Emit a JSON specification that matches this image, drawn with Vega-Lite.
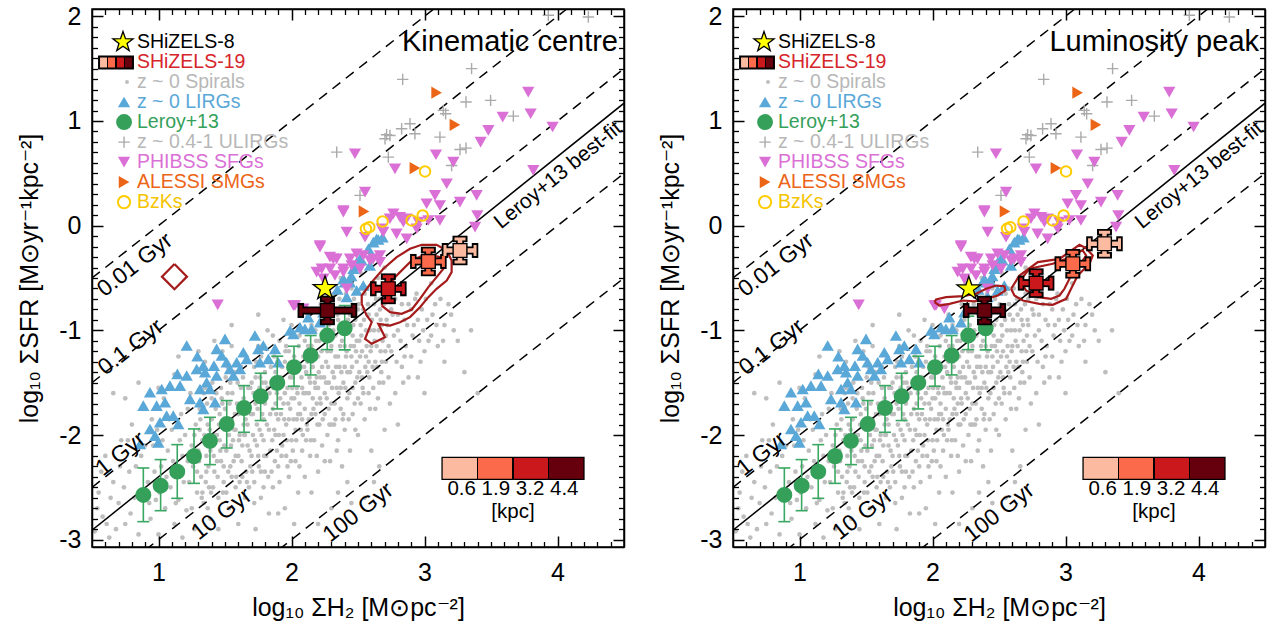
{
"$schema":"https://vega.github.io/schema/vega-lite/v6.json",
"background":"white",
"padding":{"left":17,"top":3,"right":5,"bottom":0},
"spacing":31,
"config":{"view":{"stroke":"black","strokeWidth":1.5},"font":"Liberation Sans","axis":{"grid":false}},
"datasets":{
"spirals":[{"x":0.52,"y":-2.92},{"x":0.55,"y":-2.55},{"x":0.58,"y":-2.78},{"x":0.6,"y":-2.2},{"x":0.63,"y":-2.98},{"x":0.66,"y":-2.45},{"x":0.7,"y":-2.65},{"x":0.72,"y":-2.05},{"x":0.75,"y":-2.85},{"x":0.78,"y":-2.35},{"x":0.8,"y":-1.9},{"x":0.82,"y":-2.6},{"x":0.85,"y":-2.95},{"x":0.87,"y":-2.2},{"x":0.89,"y":-1.75},{"x":0.66,"y":-1.6},{"x":0.75,"y":-1.65},
{"x":0.92,"y":-2.45},{"x":0.94,"y":-2.8},{"x":0.96,"y":-2.1},{"x":0.98,"y":-2.62},{"x":1.0,"y":-2.95},{"x":1.02,"y":-2.3},{"x":1.04,"y":-1.65},{"x":1.05,"y":-2.7},{"x":1.07,"y":-2.15},{"x":1.09,"y":-2.5},{"x":1.1,"y":-1.95},{"x":1.12,"y":-2.85},{"x":1.14,"y":-2.4},{"x":1.15,"y":-2.62},{"x":1.17,"y":-1.8},{"x":1.18,"y":-2.2},{"x":1.2,"y":-2.0},{"x":1.21,"y":-2.72},{"x":1.23,"y":-2.45},{"x":1.24,"y":-1.6},{"x":1.25,"y":-2.1},{"x":1.26,"y":-2.3},{"x":1.27,"y":-2.9},{"x":1.28,"y":-1.9},{"x":1.29,"y":-2.55},{"x":1.0,"y":-1.55},{"x":1.12,"y":-1.42},{"x":0.95,"y":-1.85},{"x":1.18,"y":-2.98},{"x":1.3,"y":-2.15},
{"x":1.31,"y":-1.75},{"x":1.32,"y":-2.4},{"x":1.33,"y":-2.05},{"x":1.34,"y":-2.65},{"x":1.35,"y":-1.3},{"x":1.36,"y":-2.2},{"x":1.37,"y":-1.9},{"x":1.38,"y":-2.5},{"x":1.39,"y":-2.8},{"x":1.4,"y":-1.65},{"x":1.41,"y":-2.1},{"x":1.42,"y":-2.35},{"x":1.43,"y":-1.45},{"x":1.44,"y":-2.0},{"x":1.45,"y":-2.6},{"x":1.46,"y":-1.8},{"x":1.47,"y":-2.25},{"x":1.48,"y":-1.2},{"x":1.49,"y":-2.45},{"x":1.5,"y":-1.95},{"x":1.51,"y":-2.15},{"x":1.52,"y":-1.6},{"x":1.53,"y":-2.7},{"x":1.54,"y":-2.3},{"x":1.55,"y":-1.85},{"x":1.56,"y":-2.05},{"x":1.57,"y":-1.4},{"x":1.58,"y":-2.5},{"x":1.59,"y":-1.7},{"x":1.6,"y":-2.2},{"x":1.61,"y":-2.0},{"x":1.62,"y":-1.55},{"x":1.63,"y":-2.4},{"x":1.64,"y":-1.9},{"x":1.65,"y":-2.6},{"x":1.66,"y":-1.3},{"x":1.67,"y":-2.1},{"x":1.68,"y":-1.75},{"x":1.69,"y":-2.3},{"x":1.7,"y":-1.5},{"x":1.35,"y":-1.55},{"x":1.42,"y":-1.1},{"x":1.55,"y":-1.15},{"x":1.6,"y":-2.85},{"x":1.45,"y":-2.9},{"x":1.52,"y":-1.35},{"x":1.38,"y":-2.0},{"x":1.65,"y":-2.0},{"x":1.48,"y":-1.7},{"x":1.58,"y":-1.95},
{"x":1.71,"y":-2.0},{"x":1.72,"y":-1.35},{"x":1.72,"y":-2.45},{"x":1.73,"y":-1.7},{"x":1.74,"y":-1.9},{"x":1.75,"y":-2.2},{"x":1.75,"y":-1.15},{"x":1.76,"y":-1.55},{"x":1.77,"y":-2.6},{"x":1.78,"y":-1.8},{"x":1.79,"y":-2.05},{"x":1.8,"y":-1.4},{"x":1.8,"y":-2.35},{"x":1.81,"y":-1.65},{"x":1.82,"y":-1.0},{"x":1.83,"y":-1.95},{"x":1.84,"y":-2.15},{"x":1.85,"y":-1.5},{"x":1.86,"y":-2.5},{"x":1.86,"y":-1.75},{"x":1.87,"y":-1.25},{"x":1.88,"y":-2.0},{"x":1.89,"y":-1.6},{"x":1.9,"y":-2.3},{"x":1.9,"y":-1.85},{"x":1.91,"y":-1.1},{"x":1.92,"y":-1.45},{"x":1.93,"y":-2.1},{"x":1.94,"y":-1.7},{"x":1.95,"y":-2.7},{"x":1.95,"y":-1.3},{"x":1.96,"y":-1.9},{"x":1.97,"y":-1.55},{"x":1.98,"y":-2.4},{"x":1.98,"y":-1.2},{"x":1.99,"y":-1.75},{"x":2.0,"y":-2.05},{"x":2.0,"y":-0.95},{"x":2.01,"y":-1.45},{"x":2.02,"y":-1.65},{"x":2.03,"y":-2.25},{"x":2.04,"y":-1.85},{"x":2.05,"y":-1.35},{"x":2.05,"y":-2.55},{"x":2.06,"y":-1.05},{"x":2.07,"y":-1.95},{"x":2.08,"y":-1.55},{"x":2.08,"y":-2.15},{"x":2.09,"y":-1.25},{"x":2.1,"y":-1.75},{"x":2.1,"y":-2.4},{"x":1.73,"y":-2.9},{"x":1.83,"y":-2.75},{"x":1.77,"y":-1.25},{"x":1.94,"y":-0.9},{"x":2.02,"y":-2.85},{"x":1.88,"y":-1.4},{"x":1.96,"y":-2.2},{"x":2.06,"y":-1.7},{"x":1.79,"y":-1.85},
{"x":2.11,"y":-1.4},{"x":2.12,"y":-0.85},{"x":2.12,"y":-1.95},{"x":2.13,"y":-1.6},{"x":2.14,"y":-2.2},{"x":2.15,"y":-1.15},{"x":2.15,"y":-1.8},{"x":2.16,"y":-1.35},{"x":2.17,"y":-2.05},{"x":2.18,"y":-1.0},{"x":2.18,"y":-1.55},{"x":2.19,"y":-1.7},{"x":2.2,"y":-2.35},{"x":2.2,"y":-1.25},{"x":2.21,"y":-1.9},{"x":2.22,"y":-0.75},{"x":2.22,"y":-1.45},{"x":2.23,"y":-2.1},{"x":2.24,"y":-1.05},{"x":2.25,"y":-1.6},{"x":2.25,"y":-1.8},{"x":2.26,"y":-1.3},{"x":2.27,"y":-2.0},{"x":2.28,"y":-0.95},{"x":2.28,"y":-1.5},{"x":2.29,"y":-2.25},{"x":2.3,"y":-1.15},{"x":2.3,"y":-1.7},{"x":2.31,"y":-1.4},{"x":2.32,"y":-0.65},{"x":2.32,"y":-1.9},{"x":2.33,"y":-1.25},{"x":2.34,"y":-1.55},{"x":2.35,"y":-2.05},{"x":2.35,"y":-0.9},{"x":2.36,"y":-1.35},{"x":2.37,"y":-1.75},{"x":2.38,"y":-1.1},{"x":2.38,"y":-2.3},{"x":2.39,"y":-1.5},{"x":2.4,"y":-0.8},{"x":2.4,"y":-1.95},{"x":2.41,"y":-1.25},{"x":2.42,"y":-1.65},{"x":2.43,"y":-1.0},{"x":2.44,"y":-1.4},{"x":2.44,"y":-2.15},{"x":2.45,"y":-0.6},{"x":2.46,"y":-1.8},{"x":2.47,"y":-1.15},{"x":2.48,"y":-1.5},{"x":2.48,"y":-0.9},{"x":2.49,"y":-1.3},{"x":2.5,"y":-2.0},{"x":2.5,"y":-1.65},{"x":2.15,"y":-2.55},{"x":2.3,"y":-2.7},{"x":2.25,"y":-0.55},{"x":2.42,"y":-2.45},{"x":2.37,"y":-0.5},{"x":2.19,"y":-1.45},{"x":2.27,"y":-1.2},{"x":2.33,"y":-1.85},{"x":2.46,"y":-1.05},{"x":2.4,"y":-1.35},
{"x":2.51,"y":-1.1},{"x":2.52,"y":-0.45},{"x":2.53,"y":-1.45},{"x":2.54,"y":-0.8},{"x":2.55,"y":-1.85},{"x":2.56,"y":-1.25},{"x":2.57,"y":-0.6},{"x":2.58,"y":-1.6},{"x":2.59,"y":-1.0},{"x":2.6,"y":-2.15},{"x":2.61,"y":-1.35},{"x":2.62,"y":-0.75},{"x":2.63,"y":-1.75},{"x":2.64,"y":-1.15},{"x":2.65,"y":-0.5},{"x":2.66,"y":-1.5},{"x":2.67,"y":-0.9},{"x":2.68,"y":-1.3},{"x":2.7,"y":-1.95},{"x":2.71,"y":-1.05},{"x":2.72,"y":-0.7},{"x":2.73,"y":-1.45},{"x":2.75,"y":-1.2},{"x":2.76,"y":-0.85},{"x":2.78,"y":-1.6},{"x":2.8,"y":-1.0},{"x":2.81,"y":-0.6},{"x":2.83,"y":-1.35},{"x":2.85,"y":-0.9},{"x":2.86,"y":-1.15},{"x":2.88,"y":-0.75},{"x":2.9,"y":-1.25},{"x":2.55,"y":-2.6},{"x":2.6,"y":-0.35},{"x":2.7,"y":-0.4},{"x":2.58,"y":-1.3},{"x":2.66,"y":-2.3},{"x":2.74,"y":-1.7},{"x":2.84,"y":-1.5},{"x":2.52,"y":-1.7},
{"x":2.92,"y":-0.95},{"x":2.94,"y":-0.65},{"x":2.96,"y":-1.1},{"x":2.98,"y":-0.8},{"x":3.0,"y":-1.2},{"x":3.02,"y":-0.9},{"x":3.05,"y":-1.05},{"x":3.08,"y":-0.75},{"x":3.1,"y":-1.15},{"x":3.15,"y":-0.95},{"x":3.2,"y":-0.85},{"x":3.3,"y":-1.4},{"x":3.25,"y":-1.1},{"x":2.95,"y":-1.45},{"x":3.05,"y":-0.55},
{"x":0.54,"y":-2.7},{"x":0.57,"y":-2.35},{"x":0.61,"y":-2.85},{"x":0.64,"y":-2.6},{"x":0.68,"y":-2.9},{"x":0.71,"y":-2.3},{"x":0.74,"y":-2.5},{"x":0.77,"y":-2.05},{"x":0.79,"y":-2.75},{"x":0.83,"y":-2.3},{"x":0.86,"y":-2.55},{"x":0.9,"y":-2.1},{"x":0.93,"y":-2.65},{"x":0.97,"y":-2.35},{"x":0.99,"y":-1.95},
{"x":1.01,"y":-2.55},{"x":1.03,"y":-2.05},{"x":1.06,"y":-2.4},{"x":1.08,"y":-1.85},{"x":1.11,"y":-2.25},{"x":1.13,"y":-2.65},{"x":1.16,"y":-2.05},{"x":1.19,"y":-2.45},{"x":1.22,"y":-1.75},{"x":1.22,"y":-2.25},{"x":1.25,"y":-2.7},{"x":1.27,"y":-2.0},{"x":1.29,"y":-2.35},{"x":1.31,"y":-1.95},{"x":1.33,"y":-2.55},{"x":1.34,"y":-1.6},{"x":1.36,"y":-2.35},{"x":1.37,"y":-2.7},{"x":1.39,"y":-2.15},{"x":1.4,"y":-1.85},
{"x":1.41,"y":-2.5},{"x":1.43,"y":-1.75},{"x":1.44,"y":-2.25},{"x":1.46,"y":-2.05},{"x":1.47,"y":-1.55},{"x":1.49,"y":-2.3},{"x":1.5,"y":-1.75},{"x":1.51,"y":-2.55},{"x":1.53,"y":-2.0},{"x":1.54,"y":-1.5},{"x":1.55,"y":-2.4},{"x":1.57,"y":-1.95},{"x":1.58,"y":-2.2},{"x":1.6,"y":-1.8},{"x":1.61,"y":-2.45},{"x":1.62,"y":-1.35},{"x":1.63,"y":-2.1},{"x":1.64,"y":-1.65},{"x":1.66,"y":-2.35},{"x":1.67,"y":-1.9},{"x":1.68,"y":-2.5},{"x":1.69,"y":-1.55},{"x":1.7,"y":-2.2},{"x":1.71,"y":-1.8},{"x":1.72,"y":-2.65},{"x":1.73,"y":-1.45},{"x":1.74,"y":-2.1},{"x":1.76,"y":-1.95},{"x":1.77,"y":-2.35},{"x":1.78,"y":-1.5},{"x":1.79,"y":-2.5},{"x":1.8,"y":-1.7},
{"x":1.81,"y":-2.2},{"x":1.82,"y":-1.55},{"x":1.83,"y":-1.3},{"x":1.84,"y":-1.8},{"x":1.85,"y":-2.35},{"x":1.86,"y":-1.05},{"x":1.87,"y":-1.95},{"x":1.88,"y":-1.7},{"x":1.89,"y":-2.15},{"x":1.9,"y":-1.45},{"x":1.91,"y":-2.45},{"x":1.92,"y":-1.8},{"x":1.93,"y":-1.35},{"x":1.94,"y":-2.0},{"x":1.95,"y":-1.6},{"x":1.96,"y":-1.15},{"x":1.97,"y":-2.3},{"x":1.98,"y":-1.85},{"x":1.99,"y":-1.45},{"x":2.0,"y":-1.65},{"x":2.01,"y":-2.15},{"x":2.02,"y":-1.25},{"x":2.03,"y":-1.95},{"x":2.04,"y":-1.55},{"x":2.05,"y":-1.8},{"x":2.06,"y":-2.3},{"x":2.07,"y":-1.35},{"x":2.08,"y":-1.85},{"x":2.09,"y":-1.6},{"x":2.1,"y":-1.1},{"x":2.11,"y":-2.05},{"x":2.12,"y":-1.3},{"x":2.13,"y":-1.85},{"x":2.14,"y":-1.5},{"x":2.15,"y":-0.95},{"x":2.16,"y":-1.65},{"x":2.17,"y":-1.2},{"x":2.18,"y":-1.8},{"x":2.19,"y":-2.2},{"x":2.2,"y":-1.55},
{"x":2.21,"y":-1.1},{"x":2.22,"y":-1.7},{"x":2.23,"y":-1.35},{"x":2.24,"y":-0.9},{"x":2.25,"y":-2.25},{"x":2.26,"y":-1.5},{"x":2.27,"y":-0.8},{"x":2.28,"y":-1.75},{"x":2.29,"y":-1.05},{"x":2.3,"y":-1.9},{"x":2.31,"y":-0.75},{"x":2.32,"y":-1.45},{"x":2.33,"y":-1.05},{"x":2.34,"y":-2.15},{"x":2.35,"y":-1.25},{"x":2.36,"y":-0.7},{"x":2.37,"y":-1.55},{"x":2.38,"y":-0.95},{"x":2.39,"y":-1.8},{"x":2.4,"y":-1.15},{"x":2.41,"y":-0.65},{"x":2.42,"y":-1.4},{"x":2.43,"y":-1.85},{"x":2.44,"y":-0.85},{"x":2.45,"y":-1.25},{"x":2.46,"y":-1.55},{"x":2.47,"y":-0.7},{"x":2.48,"y":-1.95},{"x":2.49,"y":-1.1},{"x":2.5,"y":-0.8},{"x":2.51,"y":-1.4},{"x":2.52,"y":-0.95},{"x":2.53,"y":-1.2},{"x":2.54,"y":-1.6},{"x":2.55,"y":-0.65},{"x":2.56,"y":-1.0},{"x":2.57,"y":-1.4},{"x":2.58,"y":-0.85},{"x":2.59,"y":-1.75},{"x":2.6,"y":-1.15},
{"x":2.61,"y":-0.6},{"x":2.62,"y":-1.0},{"x":2.63,"y":-1.3},{"x":2.64,"y":-0.85},{"x":2.65,"y":-1.65},{"x":2.66,"y":-0.7},{"x":2.67,"y":-1.2},{"x":2.68,"y":-0.95},{"x":2.69,"y":-1.5},{"x":2.7,"y":-0.65},{"x":2.71,"y":-1.3},{"x":2.72,"y":-0.95},{"x":2.73,"y":-1.15},{"x":2.74,"y":-0.55},{"x":2.75,"y":-0.8},{"x":2.77,"y":-1.05},{"x":2.78,"y":-0.7},{"x":2.79,"y":-1.3},{"x":2.8,"y":-0.85},{"x":2.82,"y":-1.1},{"x":2.83,"y":-0.75},{"x":2.85,"y":-1.25},{"x":2.87,"y":-0.95},{"x":2.88,"y":-1.45},{"x":2.9,"y":-0.8},{"x":2.91,"y":-1.05},{"x":2.93,"y":-0.7},{"x":2.95,"y":-0.9},{"x":2.97,"y":-1.3},{"x":2.99,"y":-1.0},{"x":3.01,"y":-0.7},{"x":3.03,"y":-1.1},{"x":3.06,"y":-0.85},{"x":3.09,"y":-0.95},{"x":3.12,"y":-0.7},{"x":3.14,"y":-1.1},{"x":3.18,"y":-0.75},{"x":3.22,"y":-1.0},
{"x":2.45,"y":-2.65},{"x":2.62,"y":-2.45},{"x":2.8,"y":-1.9},{"x":3.0,"y":-1.6},{"x":3.15,"y":-1.3},{"x":3.35,"y":-1.0},{"x":3.4,"y":-1.6},{"x":1.9,"y":-2.75},{"x":2.2,"y":-2.85},{"x":2.35,"y":-2.55},{"x":1.55,"y":-0.95},{"x":1.75,"y":-0.85},{"x":1.3,"y":-1.2},{"x":1.15,"y":-1.25},{"x":0.85,"y":-1.5},
{"x":1.305,"y":-2.25},{"x":1.315,"y":-1.85},{"x":1.325,"y":-2.6},{"x":1.345,"y":-2.0},{"x":1.355,"y":-2.45},{"x":1.365,"y":-1.7},{"x":1.375,"y":-2.3},{"x":1.385,"y":-1.95},{"x":1.395,"y":-2.55},{"x":1.405,"y":-1.5},{"x":1.415,"y":-2.2},{"x":1.425,"y":-2.0},{"x":1.435,"y":-1.6},{"x":1.445,"y":-2.4},{"x":1.455,"y":-1.9},{"x":1.465,"y":-2.15},{"x":1.475,"y":-1.65},{"x":1.485,"y":-2.55},{"x":1.495,"y":-2.1},{"x":1.505,"y":-1.45},{"x":1.515,"y":-1.85},{"x":1.525,"y":-2.35},{"x":1.535,"y":-1.7},{"x":1.545,"y":-2.1},{"x":1.555,"y":-1.6},{"x":1.565,"y":-2.25},{"x":1.575,"y":-1.8},{"x":1.585,"y":-2.4},{"x":1.595,"y":-1.5},{"x":1.605,"y":-2.05},{"x":1.615,"y":-1.75},{"x":1.625,"y":-2.25},{"x":1.635,"y":-1.45},{"x":1.645,"y":-2.0},{"x":1.655,"y":-1.85},{"x":1.665,"y":-2.45},{"x":1.675,"y":-1.55},{"x":1.685,"y":-2.15},{"x":1.695,"y":-1.8},{"x":1.705,"y":-2.35},{"x":1.715,"y":-1.6},{"x":1.725,"y":-2.05},{"x":1.735,"y":-1.3},{"x":1.745,"y":-1.75},{"x":1.755,"y":-2.3},{"x":1.765,"y":-1.45},{"x":1.775,"y":-2.0},{"x":1.785,"y":-1.65},{"x":1.795,"y":-2.2},{"x":1.805,"y":-1.5},{"x":1.815,"y":-1.9},{"x":1.825,"y":-2.4},{"x":1.835,"y":-1.6},{"x":1.845,"y":-1.35},{"x":1.855,"y":-2.05},{"x":1.865,"y":-1.55},{"x":1.875,"y":-2.25},{"x":1.885,"y":-1.8},{"x":1.895,"y":-1.3},{"x":1.905,"y":-2.0},{"x":1.915,"y":-1.65},{"x":1.925,"y":-2.2},{"x":1.935,"y":-1.5},{"x":1.945,"y":-1.85},{"x":1.955,"y":-1.2},{"x":1.965,"y":-2.05},{"x":1.975,"y":-1.7},{"x":1.985,"y":-1.4},{"x":1.995,"y":-2.25},{"x":2.005,"y":-1.55},{"x":2.015,"y":-1.85},{"x":2.025,"y":-1.3},{"x":2.035,"y":-2.05},{"x":2.045,"y":-1.6},{"x":2.055,"y":-1.15},{"x":2.065,"y":-1.8},{"x":2.075,"y":-1.45},{"x":2.085,"y":-2.0},{"x":2.095,"y":-1.35},{"x":2.105,"y":-1.6},{"x":2.115,"y":-1.9},{"x":2.125,"y":-1.15},{"x":2.135,"y":-1.45},{"x":2.145,"y":-2.05},{"x":2.155,"y":-1.3},{"x":2.165,"y":-1.75},{"x":2.175,"y":-1.5},{"x":2.185,"y":-1.1},{"x":2.195,"y":-1.9},{"x":2.205,"y":-1.4},{"x":2.215,"y":-1.65},{"x":2.225,"y":-1.2},{"x":2.235,"y":-1.85},{"x":2.245,"y":-1.45},{"x":2.255,"y":-1.0},{"x":2.265,"y":-1.65},{"x":2.275,"y":-1.35},{"x":2.285,"y":-1.9},{"x":2.295,"y":-1.2},{"x":2.305,"y":-1.55},{"x":2.315,"y":-1.0},{"x":2.325,"y":-1.7},{"x":2.335,"y":-1.35},{"x":2.345,"y":-0.85},{"x":2.355,"y":-1.6},{"x":2.365,"y":-1.15},{"x":2.375,"y":-1.4},{"x":2.385,"y":-1.85},{"x":2.395,"y":-1.0},{"x":2.405,"y":-1.55},{"x":2.415,"y":-1.2},{"x":2.425,"y":-0.9},{"x":2.435,"y":-1.6},{"x":2.445,"y":-1.15},{"x":2.455,"y":-1.35},{"x":2.465,"y":-0.95},{"x":2.475,"y":-1.7},{"x":2.485,"y":-1.2},{"x":2.495,"y":-1.45},{"x":2.505,"y":-0.75},{"x":2.515,"y":-1.25},{"x":2.525,"y":-1.05},{"x":2.535,"y":-1.55},{"x":2.545,"y":-0.9},{"x":2.555,"y":-1.35},{"x":2.565,"y":-1.15},{"x":2.575,"y":-0.75},{"x":2.585,"y":-1.45},{"x":2.595,"y":-1.2},{"x":2.605,"y":-0.9},{"x":2.615,"y":-1.55},{"x":2.625,"y":-1.1},{"x":2.635,"y":-0.7},{"x":2.645,"y":-1.35},{"x":2.655,"y":-1.0},{"x":2.665,"y":-0.8},{"x":2.675,"y":-1.4},{"x":2.685,"y":-1.1},{"x":2.695,"y":-0.75},{"x":2.705,"y":-1.2},{"x":2.715,"y":-0.9}],
"lirgs":[{"x":1.212,"y":-1.145},{"x":1.292,"y":-1.247},{"x":1.287,"y":-1.369},{"x":1.142,"y":-1.416},{"x":1.212,"y":-1.432},{"x":1.337,"y":-1.337},{"x":1.35,"y":-1.4},{"x":1.417,"y":-1.337},{"x":1.437,"y":-1.177},{"x":1.5,"y":-1.082},{"x":1.475,"y":-1.241},{"x":1.512,"y":-1.305},{"x":1.537,"y":-1.369},{"x":1.588,"y":-1.305},{"x":1.638,"y":-1.209},{"x":1.663,"y":-1.273},{"x":1.725,"y":-1.05},{"x":1.75,"y":-1.177},{"x":1.788,"y":-1.145},{"x":1.826,"y":-1.273},{"x":1.876,"y":-1.177},{"x":1.901,"y":-1.305},{"x":1.763,"y":-1.305},{"x":1.613,"y":-1.369},{"x":1.563,"y":-1.432},{"x":1.437,"y":-1.432},{"x":1.362,"y":-1.496},{"x":1.312,"y":-1.56},{"x":1.312,"y":-1.687},{"x":1.387,"y":-1.56},{"x":1.425,"y":-1.687},{"x":1.337,"y":-1.751},{"x":1.162,"y":-1.528},{"x":1.086,"y":-1.528},{"x":1.024,"y":-1.56},{"x":0.936,"y":-1.592},{"x":0.886,"y":-1.719},{"x":0.986,"y":-1.719},{"x":1.049,"y":-1.687},{"x":1.061,"y":-1.815},{"x":1.111,"y":-1.815},{"x":1.011,"y":-1.878},{"x":0.936,"y":-1.942},{"x":0.974,"y":-2.006},{"x":0.999,"y":-2.07},{"x":0.861,"y":-2.086},{"x":1.149,"y":-1.894},{"x":1.237,"y":-1.655},{"x":1.989,"y":-1.002},{"x":2.014,"y":-1.034},{"x":2.064,"y":-0.97},{"x":2.101,"y":-0.986},{"x":2.126,"y":-0.874},{"x":2.151,"y":-0.986},{"x":2.214,"y":-0.922},{"x":2.239,"y":-0.827},{"x":2.39,"y":-0.508},{"x":2.44,"y":-0.54},{"x":2.465,"y":-0.412},{"x":2.49,"y":-0.349},{"x":2.54,"y":-0.572},{"x":2.59,"y":-0.38},{"x":2.615,"y":-0.157},{"x":2.64,"y":-0.126},{"x":2.515,"y":-0.317},{"x":2.653,"y":-0.132},{"x":2.685,"y":-0.11},{"x":2.485,"y":-0.38},{"x":2.527,"y":-0.33},{"x":2.49,"y":-0.62},{"x":2.415,"y":-0.68},{"x":2.345,"y":-0.61},{"x":2.4,"y":-0.54},{"x":2.45,"y":-0.48},{"x":2.578,"y":-0.22}],
"leroy":[{"x":0.886,"y":-2.573,"lo":-2.828,"hi":-2.315},{"x":1.016,"y":-2.484,"lo":-2.723,"hi":-2.235},{"x":1.141,"y":-2.35,"lo":-2.605,"hi":-2.092},{"x":1.267,"y":-2.203,"lo":-2.462,"hi":-1.942},{"x":1.387,"y":-2.057,"lo":-2.283,"hi":-1.831},{"x":1.513,"y":-1.895,"lo":-2.124,"hi":-1.671},{"x":1.643,"y":-1.742,"lo":-1.974,"hi":-1.528},{"x":1.768,"y":-1.63,"lo":-1.862,"hi":-1.41},{"x":1.893,"y":-1.503,"lo":-1.751,"hi":-1.247},{"x":2.019,"y":-1.352,"lo":-1.534,"hi":-1.152},{"x":2.144,"y":-1.24,"lo":-1.426,"hi":-1.05},{"x":2.269,"y":-1.05,"lo":-1.184,"hi":-0.865},{"x":2.4,"y":-0.98,"lo":-1.187,"hi":-0.763}],
"ulirgs":[{"x":3.931,"y":2.01},{"x":4.232,"y":1.994},{"x":3.354,"y":1.5},{"x":2.836,"y":1.398},{"x":3.312,"y":1.181},{"x":3.497,"y":1.197},{"x":3.141,"y":1.101},{"x":3.159,"y":1.069},{"x":3.668,"y":1.047},{"x":2.891,"y":0.974},{"x":2.828,"y":0.926},{"x":2.928,"y":0.878},{"x":2.715,"y":0.869},{"x":2.703,"y":0.83},{"x":2.74,"y":0.862},{"x":3.116,"y":0.846},{"x":3.267,"y":0.728},{"x":3.312,"y":0.741},{"x":2.34,"y":0.703},{"x":2.728,"y":0.655},{"x":2.515,"y":0.289},{"x":3.204,"y":0.575}],
"phibss":[{"x":3.78,"y":1.276},{"x":3.798,"y":1.069},{"x":3.588,"y":1.037},{"x":3.48,"y":0.91},{"x":3.422,"y":0.798},{"x":3.963,"y":0.942},{"x":3.818,"y":0.528},{"x":3.086,"y":0.677},{"x":3.217,"y":0.607},{"x":2.778,"y":0.543},{"x":2.477,"y":0.687},{"x":3.167,"y":0.4},{"x":3.079,"y":0.289},{"x":3.016,"y":0.209},{"x":3.116,"y":0.193},{"x":3.267,"y":0.225},{"x":3.392,"y":0.289},{"x":3.397,"y":0.097},{"x":3.38,"y":-0.014},{"x":3.029,"y":0.05},{"x":2.954,"y":0.034},{"x":2.866,"y":0.066},{"x":2.766,"y":0.113},{"x":2.816,"y":0.081},{"x":2.553,"y":0.32},{"x":2.39,"y":0.145},{"x":2.415,"y":-0.062},{"x":2.553,"y":-0.11},{"x":2.678,"y":-0.03},{"x":2.79,"y":-0.078},{"x":2.866,"y":-0.126},{"x":2.941,"y":-0.03},{"x":3.116,"y":0.05},{"x":2.214,"y":-0.205},{"x":2.314,"y":-0.317},{"x":2.49,"y":-0.269},{"x":2.59,"y":-0.333},{"x":2.515,"y":-0.413},{"x":2.665,"y":-0.285},{"x":2.29,"y":-0.413},{"x":2.227,"y":-0.413},{"x":2.026,"y":-0.763},{"x":2.327,"y":-0.476},{"x":2.39,"y":-0.444},{"x":2.452,"y":-0.381},{"x":2.214,"y":-0.189},{"x":2.289,"y":-0.301},{"x":2.339,"y":-0.317},{"x":2.39,"y":-0.412},{"x":2.44,"y":-0.317},{"x":2.54,"y":-0.285},{"x":2.615,"y":-0.317},{"x":2.665,"y":-0.349},{"x":2.014,"y":-0.763},{"x":2.089,"y":-0.795},{"x":2.189,"y":-0.444},{"x":2.239,"y":-0.508},{"x":2.415,"y":-0.604},{"x":2.39,"y":0.129},{"x":2.841,"y":0.034},{"x":2.74,"y":0.066},{"x":2.69,"y":-0.062},{"x":1.445,"y":-0.757}],
"alessi":[{"x":3.091,"y":1.27},{"x":3.229,"y":0.964},{"x":2.928,"y":0.55},{"x":2.545,"y":0.136}],
"bzk":[{"x":3.004,"y":0.518},{"x":2.56,"y":-0.03},{"x":2.585,"y":-0.014},{"x":2.685,"y":0.04},{"x":2.903,"y":0.05},{"x":2.986,"y":0.097}],
"depl":[{"g":"a","x":0.5,"y":-0.5},{"g":"a","x":4.5,"y":3.5},{"g":"b","x":0.5,"y":-1.5},{"g":"b","x":4.5,"y":2.5},{"g":"c","x":0.5,"y":-2.5},{"g":"c","x":4.5,"y":1.5},{"g":"d","x":0.5,"y":-3.5},{"g":"d","x":4.5,"y":0.5},{"g":"e","x":0.5,"y":-4.5},{"g":"e","x":4.5,"y":-0.5}],
"fit":[{"x":0.5,"y":-2.91},{"x":4.5,"y":1.17}],
"s8k":[{"x":2.252,"y":-0.6}],
"s8l":[{"x":2.273,"y":-0.603}],
"s19k":[{"r":"4.4","x":2.27,"y":-0.81,"xlo":2.07,"xhi":2.47,"ylo":-0.92,"yhi":-0.7},{"r":"3.2","x":2.728,"y":-0.603,"xlo":2.615,"xhi":2.841,"ylo":-0.719,"yhi":-0.487},{"r":"1.9","x":3.029,"y":-0.342,"xlo":2.916,"xhi":3.142,"ylo":-0.452,"yhi":-0.232},{"r":"0.6","x":3.267,"y":-0.237,"xlo":3.154,"xhi":3.38,"ylo":-0.347,"yhi":-0.127}],
"s19l":[{"r":"4.4","x":2.391,"y":-0.811,"xlo":2.253,"xhi":2.529,"ylo":-0.921,"yhi":-0.701},{"r":"3.2","x":2.779,"y":-0.549,"xlo":2.666,"xhi":2.892,"ylo":-0.659,"yhi":-0.439},{"r":"1.9","x":3.055,"y":-0.364,"xlo":2.942,"xhi":3.168,"ylo":-0.474,"yhi":-0.254},{"r":"0.6","x":3.293,"y":-0.173,"xlo":3.18,"xhi":3.406,"ylo":-0.283,"yhi":-0.063}],
"ck":[{"c":"o","o":1,"x":2.528,"y":-0.747},{"c":"o","o":2,"x":2.565,"y":-0.858},{"c":"o","o":3,"x":2.603,"y":-0.922},{"c":"o","o":4,"x":2.553,"y":-1.081},{"c":"o","o":5,"x":2.603,"y":-1.129},{"c":"o","o":6,"x":2.703,"y":-1.066},{"c":"o","o":7,"x":2.653,"y":-0.938},{"c":"o","o":8,"x":2.741,"y":-0.954},{"c":"o","o":9,"x":2.816,"y":-0.922},{"c":"o","o":10,"x":2.891,"y":-0.874},{"c":"o","o":11,"x":2.966,"y":-0.779},{"c":"o","o":12,"x":3.029,"y":-0.683},{"c":"o","o":13,"x":3.091,"y":-0.603},{"c":"o","o":14,"x":3.167,"y":-0.524},{"c":"o","o":15,"x":3.204,"y":-0.444},{"c":"o","o":16,"x":3.204,"y":-0.333},{"c":"o","o":17,"x":3.167,"y":-0.237},{"c":"o","o":18,"x":3.091,"y":-0.183},{"c":"o","o":19,"x":2.979,"y":-0.183},{"c":"o","o":20,"x":2.891,"y":-0.221},{"c":"o","o":21,"x":2.791,"y":-0.301},{"c":"o","o":22,"x":2.691,"y":-0.412},{"c":"o","o":23,"x":2.603,"y":-0.54},{"c":"o","o":24,"x":2.528,"y":-0.667},{"c":"o","o":25,"x":2.528,"y":-0.747},
{"c":"i","o":1,"x":2.678,"y":-0.763},{"c":"i","o":2,"x":2.69,"y":-0.715},{"c":"i","o":3,"x":2.73,"y":-0.6},{"c":"i","o":4,"x":2.778,"y":-0.492},{"c":"i","o":5,"x":2.904,"y":-0.333},{"c":"i","o":6,"x":3.016,"y":-0.269},{"c":"i","o":7,"x":3.117,"y":-0.301},{"c":"i","o":8,"x":3.142,"y":-0.412},{"c":"i","o":9,"x":3.091,"y":-0.492},{"c":"i","o":10,"x":3.029,"y":-0.587},{"c":"i","o":11,"x":2.966,"y":-0.699},{"c":"i","o":12,"x":2.904,"y":-0.801},{"c":"i","o":13,"x":2.828,"y":-0.842},{"c":"i","o":14,"x":2.741,"y":-0.826},{"c":"i","o":15,"x":2.678,"y":-0.763},
{"c":"d","o":1,"x":1.12,"y":-0.367},{"c":"d","o":2,"x":1.214,"y":-0.487},{"c":"d","o":3,"x":1.12,"y":-0.607},{"c":"d","o":4,"x":1.026,"y":-0.487},{"c":"d","o":5,"x":1.12,"y":-0.367}],
"cl":[{"c":"o","o":1,"x":2.591,"y":-0.603},{"c":"o","o":2,"x":2.654,"y":-0.476},{"c":"o","o":3,"x":2.792,"y":-0.348},{"c":"o","o":4,"x":2.955,"y":-0.317},{"c":"o","o":5,"x":3.105,"y":-0.183},{"c":"o","o":6,"x":3.155,"y":-0.215},{"c":"o","o":7,"x":3.205,"y":-0.285},{"c":"o","o":8,"x":3.18,"y":-0.364},{"c":"o","o":9,"x":3.092,"y":-0.476},{"c":"o","o":10,"x":3.042,"y":-0.603},{"c":"o","o":11,"x":3.005,"y":-0.699},{"c":"o","o":12,"x":2.904,"y":-0.756},{"c":"o","o":13,"x":2.804,"y":-0.747},{"c":"o","o":14,"x":2.679,"y":-0.715},{"c":"o","o":15,"x":2.616,"y":-0.667},{"c":"o","o":16,"x":2.591,"y":-0.603},
{"c":"i","o":1,"x":2.679,"y":-0.492},{"c":"i","o":2,"x":2.729,"y":-0.412},{"c":"i","o":3,"x":2.904,"y":-0.364},{"c":"i","o":4,"x":3.005,"y":-0.317},{"c":"i","o":5,"x":3.08,"y":-0.259},{"c":"i","o":6,"x":3.13,"y":-0.237},{"c":"i","o":7,"x":3.155,"y":-0.285},{"c":"i","o":8,"x":3.105,"y":-0.38},{"c":"i","o":9,"x":3.042,"y":-0.476},{"c":"i","o":10,"x":2.992,"y":-0.603},{"c":"i","o":11,"x":2.955,"y":-0.667},{"c":"i","o":12,"x":2.892,"y":-0.699},{"c":"i","o":13,"x":2.792,"y":-0.683},{"c":"i","o":14,"x":2.704,"y":-0.619},{"c":"i","o":15,"x":2.674,"y":-0.556},{"c":"i","o":16,"x":2.679,"y":-0.492},
{"c":"e","o":1,"x":2.015,"y":-0.731},{"c":"e","o":2,"x":2.052,"y":-0.763},{"c":"e","o":3,"x":2.128,"y":-0.747},{"c":"e","o":4,"x":2.228,"y":-0.715},{"c":"e","o":5,"x":2.315,"y":-0.724},{"c":"e","o":6,"x":2.403,"y":-0.699},{"c":"e","o":7,"x":2.491,"y":-0.667},{"c":"e","o":8,"x":2.548,"y":-0.619},{"c":"e","o":9,"x":2.541,"y":-0.578},{"c":"e","o":10,"x":2.478,"y":-0.572},{"c":"e","o":11,"x":2.403,"y":-0.603},{"c":"e","o":12,"x":2.328,"y":-0.651},{"c":"e","o":13,"x":2.228,"y":-0.673},{"c":"e","o":14,"x":2.102,"y":-0.683},{"c":"e","o":15,"x":2.027,"y":-0.705},{"c":"e","o":16,"x":2.015,"y":-0.731}]
},
"hconcat":[
{"width":532,"height":538,
"resolve":{"axis":{"x":"independent","y":"independent"}},
"layer":[
{"data":{"name":"spirals"},"mark":{"type":"point","shape":"circle","filled":true,"color":"#bebebe","size":22,"opacity":1,"strokeWidth":0},
"encoding":{
"x":{"field":"x","type":"quantitative","scale":{"domain":[0.5,4.5],"nice":false,"zero":false},"axis":{"orient":"bottom","values":[1,2,3,4],"labelExpr":"''+datum.value","tickSize":-11,"tickWidth":1.5,"tickColor":"black","domainColor":"black","domainWidth":1.5,"labelFont":"Liberation Sans","labelFontSize":25,"labelColor":"black","labelPadding":24,"labelFlush":false,"labelOverlap":false,"title":"log₁₀ ΣH₂ [M⊙pc⁻²]","titleFont":"Liberation Sans","titleFontSize":25,"titleFontWeight":"normal","titleColor":"black","titlePadding":10,"zindex":1}},
"y":{"field":"y","type":"quantitative","scale":{"domain":[-3.07,2.07],"nice":false,"zero":false},"axis":{"orient":"left","values":[-3,-2,-1,0,1,2],"labelExpr":"''+datum.value","tickSize":-11,"tickWidth":1.5,"tickColor":"black","domainColor":"black","domainWidth":1.5,"labelFont":"Liberation Sans","labelFontSize":25,"labelColor":"black","labelPadding":22,"labelFlush":false,"labelOverlap":false,"title":"log₁₀ ΣSFR [M⊙yr⁻¹kpc⁻²]","titleFont":"Liberation Sans","titleFontSize":25,"titleFontWeight":"normal","titleColor":"black","titlePadding":16,"zindex":1}}}},
{"data":{"name":"depl"},"mark":{"type":"line","clip":true,"color":"black","strokeWidth":1.5,"strokeDash":[10,7]},"encoding":{"x":{"field":"x","type":"quantitative","axis":null},"y":{"field":"y","type":"quantitative","axis":null},"detail":{"field":"g","type":"nominal"}}},
{"data":{"name":"fit"},"mark":{"type":"line","clip":true,"color":"black","strokeWidth":1.5},"encoding":{"x":{"field":"x","type":"quantitative","axis":null},"y":{"field":"y","type":"quantitative","axis":null}}},
{"data":{"name":"lirgs"},"mark":{"type":"point","shape":"triangle-up","filled":true,"color":"#5aa8d8","size":150,"opacity":1,"strokeWidth":0},"encoding":{
"x":{"field":"x","type":"quantitative","axis":{"orient":"bottom","values":[0.6,0.7,0.8,0.9,1.1,1.2,1.3,1.4,1.5,1.6,1.7,1.8,1.9,2.1,2.2,2.3,2.4,2.5,2.6,2.7,2.8,2.9,3.1,3.2,3.3,3.4,3.5,3.6,3.7,3.8,3.9,4.1,4.2,4.3,4.4],"tickSize":-5.5,"tickWidth":1.3,"tickColor":"black","labels":false,"domain":false,"title":null,"zindex":1}},
"y":{"field":"y","type":"quantitative","axis":{"orient":"left","values":[-2.9,-2.8,-2.7,-2.6,-2.5,-2.4,-2.3,-2.2,-2.1,-1.9,-1.8,-1.7,-1.6,-1.5,-1.4,-1.3,-1.2,-1.1,-0.9,-0.8,-0.7,-0.6,-0.5,-0.4,-0.3,-0.2,-0.1,0.1,0.2,0.3,0.4,0.5,0.6,0.7,0.8,0.9,1.1,1.2,1.3,1.4,1.5,1.6,1.7,1.8,1.9],"tickSize":-5.5,"tickWidth":1.3,"tickColor":"black","labels":false,"domain":false,"title":null,"zindex":1}}}},
{"data":{"name":"leroy"},"mark":{"type":"rule","color":"#3aa862","strokeWidth":1.6},"encoding":{"x":{"field":"x","type":"quantitative","axis":null},"y":{"field":"lo","type":"quantitative","axis":null},"y2":{"field":"hi"}}},
{"data":{"name":"leroy"},"transform":[{"fold":["lo","hi"],"as":["k","v"]}],"mark":{"type":"tick","orient":"horizontal","color":"#3aa862","size":12,"thickness":1.6,"opacity":1},"encoding":{"x":{"field":"x","type":"quantitative","axis":null},"y":{"field":"v","type":"quantitative","axis":null}}},
{"data":{"name":"leroy"},"mark":{"type":"point","shape":"circle","filled":true,"color":"#34a05a","size":254,"opacity":1,"strokeWidth":0},"encoding":{"x":{"field":"x","type":"quantitative","axis":null},"y":{"field":"y","type":"quantitative","axis":null}}},
{"data":{"name":"ulirgs"},"mark":{"type":"point","shape":"M-1,0L1,0M0,-1L0,1","filled":false,"color":"#aaaaaa","size":130,"opacity":1,"strokeWidth":1.4},"encoding":{
"x":{"field":"x","type":"quantitative","axis":{"orient":"top","values":[0.6,0.7,0.8,0.9,1.1,1.2,1.3,1.4,1.5,1.6,1.7,1.8,1.9,2.1,2.2,2.3,2.4,2.5,2.6,2.7,2.8,2.9,3.1,3.2,3.3,3.4,3.5,3.6,3.7,3.8,3.9,4.1,4.2,4.3,4.4],"tickSize":-5.5,"tickWidth":1.3,"tickColor":"black","labels":false,"domain":false,"title":null,"zindex":1}},
"y":{"field":"y","type":"quantitative","axis":{"orient":"right","values":[-2.9,-2.8,-2.7,-2.6,-2.5,-2.4,-2.3,-2.2,-2.1,-1.9,-1.8,-1.7,-1.6,-1.5,-1.4,-1.3,-1.2,-1.1,-0.9,-0.8,-0.7,-0.6,-0.5,-0.4,-0.3,-0.2,-0.1,0.1,0.2,0.3,0.4,0.5,0.6,0.7,0.8,0.9,1.1,1.2,1.3,1.4,1.5,1.6,1.7,1.8,1.9],"tickSize":-5.5,"tickWidth":1.3,"tickColor":"black","labels":false,"domain":false,"title":null,"zindex":1}}}},
{"data":{"name":"phibss"},"mark":{"type":"point","shape":"triangle-down","filled":true,"color":"#da70d6","size":150,"opacity":1,"strokeWidth":0},"encoding":{
"x":{"field":"x","type":"quantitative","axis":{"orient":"top","values":[1,2,3,4],"tickSize":-11,"tickWidth":1.5,"tickColor":"black","labels":false,"domainColor":"black","domainWidth":1.5,"title":null,"zindex":1}},
"y":{"field":"y","type":"quantitative","axis":{"orient":"right","values":[-3,-2,-1,0,1,2],"tickSize":-11,"tickWidth":1.5,"tickColor":"black","labels":false,"domainColor":"black","domainWidth":1.5,"title":null,"zindex":1}}}},
{"data":{"name":"alessi"},"mark":{"type":"point","shape":"triangle-right","filled":true,"color":"#ec6416","size":150,"opacity":1,"strokeWidth":0},"encoding":{"x":{"field":"x","type":"quantitative","axis":null},"y":{"field":"y","type":"quantitative","axis":null}}},
{"data":{"name":"bzk"},"mark":{"type":"point","shape":"circle","filled":false,"color":"#ffcc00","size":110,"opacity":1,"strokeWidth":2},"encoding":{"x":{"field":"x","type":"quantitative","axis":null},"y":{"field":"y","type":"quantitative","axis":null}}},
{"data":{"name":"ck"},"mark":{"type":"line","clip":true,"color":"#a51b1b","strokeWidth":2.2},"encoding":{"x":{"field":"x","type":"quantitative","axis":null},"y":{"field":"y","type":"quantitative","axis":null},"detail":{"field":"c","type":"nominal"},"order":{"field":"o","type":"quantitative"}}},
{"data":{"name":"s19k"},"mark":{"type":"rule","color":"black","strokeWidth":8},"encoding":{"x":{"field":"xlo","type":"quantitative","axis":null},"x2":{"field":"xhi"},"y":{"field":"y","type":"quantitative","axis":null}}},
{"data":{"name":"s19k"},"mark":{"type":"rule","color":"black","strokeWidth":8},"encoding":{"x":{"field":"x","type":"quantitative","axis":null},"y":{"field":"ylo","type":"quantitative","axis":null},"y2":{"field":"yhi"}}},
{"data":{"name":"s19k"},"transform":[{"fold":["xlo","xhi"],"as":["k","v"]}],"mark":{"type":"tick","orient":"vertical","color":"black","size":15,"thickness":6.5,"opacity":1},"encoding":{"x":{"field":"v","type":"quantitative","axis":null},"y":{"field":"y","type":"quantitative","axis":null}}},
{"data":{"name":"s19k"},"transform":[{"fold":["ylo","yhi"],"as":["k","v"]}],"mark":{"type":"tick","orient":"horizontal","color":"black","size":15,"thickness":6.5,"opacity":1},"encoding":{"x":{"field":"x","type":"quantitative","axis":null},"y":{"field":"v","type":"quantitative","axis":null}}},
{"data":{"name":"s19k"},"mark":{"type":"rule","strokeWidth":4.5},"encoding":{"x":{"field":"xlo","type":"quantitative","axis":null},"x2":{"field":"xhi"},"y":{"field":"y","type":"quantitative","axis":null},"stroke":{"field":"r","type":"ordinal","scale":{"domain":["0.6","1.9","3.2","4.4"],"range":["#fcbba1","#fb6a4a","#cb181d","#67000d"]},"legend":null}}},
{"data":{"name":"s19k"},"mark":{"type":"rule","strokeWidth":4.5},"encoding":{"x":{"field":"x","type":"quantitative","axis":null},"y":{"field":"ylo","type":"quantitative","axis":null},"y2":{"field":"yhi"},"stroke":{"field":"r","type":"ordinal","scale":{"domain":["0.6","1.9","3.2","4.4"],"range":["#fcbba1","#fb6a4a","#cb181d","#67000d"]},"legend":null}}},
{"data":{"name":"s19k"},"transform":[{"fold":["xlo","xhi"],"as":["k","v"]}],"mark":{"type":"tick","orient":"vertical","size":11,"thickness":3,"opacity":1},"encoding":{"x":{"field":"v","type":"quantitative","axis":null},"y":{"field":"y","type":"quantitative","axis":null},"fill":{"field":"r","type":"ordinal","scale":{"domain":["0.6","1.9","3.2","4.4"],"range":["#fcbba1","#fb6a4a","#cb181d","#67000d"]},"legend":null}}},
{"data":{"name":"s19k"},"transform":[{"fold":["ylo","yhi"],"as":["k","v"]}],"mark":{"type":"tick","orient":"horizontal","size":11,"thickness":3,"opacity":1},"encoding":{"x":{"field":"x","type":"quantitative","axis":null},"y":{"field":"v","type":"quantitative","axis":null},"fill":{"field":"r","type":"ordinal","scale":{"domain":["0.6","1.9","3.2","4.4"],"range":["#fcbba1","#fb6a4a","#cb181d","#67000d"]},"legend":null}}},
{"data":{"name":"s19k"},"mark":{"type":"point","shape":"square","filled":true,"size":190,"opacity":1,"stroke":"black","strokeWidth":1.4},"encoding":{"x":{"field":"x","type":"quantitative","axis":null},"y":{"field":"y","type":"quantitative","axis":null},"fill":{"field":"r","type":"ordinal","scale":{"domain":["0.6","1.9","3.2","4.4"],"range":["#fcbba1","#fb6a4a","#cb181d","#67000d"]},"legend":null}}},
{"data":{"name":"s8k"},"mark":{"type":"point","shape":"M0,-1L0.235,-0.324L0.951,-0.309L0.38,0.124L0.588,0.809L0,0.4L-0.588,0.809L-0.38,0.124L-0.951,-0.309L-0.235,-0.324Z","filled":true,"fill":"#ffff00","size":620,"opacity":1,"stroke":"black","strokeWidth":1.3},"encoding":{"x":{"field":"x","type":"quantitative","axis":null},"y":{"field":"y","type":"quantitative","axis":null}}},
{"data":{"values":[{}]},"mark":{"type":"text","text":"0.01 Gyr","angle":-38,"fontSize":23,"font":"Liberation Sans","color":"black"},"encoding":{"x":{"datum":0.823,"type":"quantitative","axis":null},"y":{"datum":-0.375,"type":"quantitative","axis":null}}},
{"data":{"values":[{}]},"mark":{"type":"text","text":"0.1 Gyr","angle":-38,"fontSize":23,"font":"Liberation Sans","color":"black"},"encoding":{"x":{"datum":0.791,"type":"quantitative","axis":null},"y":{"datum":-1.161,"type":"quantitative","axis":null}}},
{"data":{"values":[{}]},"mark":{"type":"text","text":"1 Gyr","angle":-38,"fontSize":23,"font":"Liberation Sans","color":"black"},"encoding":{"x":{"datum":0.716,"type":"quantitative","axis":null},"y":{"datum":-2.181,"type":"quantitative","axis":null}}},
{"data":{"values":[{}]},"mark":{"type":"text","text":"10 Gyr","angle":-38,"fontSize":23,"font":"Liberation Sans","color":"black"},"encoding":{"x":{"datum":1.475,"type":"quantitative","axis":null},"y":{"datum":-2.755,"type":"quantitative","axis":null}}},
{"data":{"values":[{}]},"mark":{"type":"text","text":"100 Gyr","angle":-38,"fontSize":23,"font":"Liberation Sans","color":"black"},"encoding":{"x":{"datum":2.502,"type":"quantitative","axis":null},"y":{"datum":-2.739,"type":"quantitative","axis":null}}},
{"data":{"values":[{}]},"mark":{"type":"text","text":"Leroy+13 best-fit","angle":-39,"fontSize":21,"font":"Liberation Sans","color":"black"},"encoding":{"x":{"datum":4.006,"type":"quantitative","axis":null},"y":{"datum":0.48,"type":"quantitative","axis":null}}},
{"data":{"values":[{}]},"mark":{"type":"text","text":"Kinematic centre","align":"right","baseline":"middle","fontSize":29,"font":"Liberation Sans","color":"black"},"encoding":{"x":{"datum":4.455,"type":"quantitative","axis":null},"y":{"datum":1.755,"type":"quantitative","axis":null}}},
{"data":{"values":[{}]},"mark":{"type":"point","shape":"M0,-1L0.235,-0.324L0.951,-0.309L0.38,0.124L0.588,0.809L0,0.4L-0.588,0.809L-0.38,0.124L-0.951,-0.309L-0.235,-0.324Z","filled":true,"fill":"#ffff00","stroke":"black","strokeWidth":1.3,"size":450,"opacity":1},"encoding":{"x":{"datum":0.733,"type":"quantitative","axis":null},"y":{"datum":1.754,"type":"quantitative","axis":null}}},
{"data":{"values":[{}]},"mark":{"type":"rect","fill":{"gradient":"linear","x1":0,"y1":0,"x2":1,"y2":0,"stops":[{"offset":0,"color":"#fcbba1"},{"offset":0.235,"color":"#fcbba1"},{"offset":0.235,"color":"#000000"},{"offset":0.265,"color":"#000000"},{"offset":0.265,"color":"#fb6a4a"},{"offset":0.485,"color":"#fb6a4a"},{"offset":0.485,"color":"#000000"},{"offset":0.515,"color":"#000000"},{"offset":0.515,"color":"#cb181d"},{"offset":0.735,"color":"#cb181d"},{"offset":0.735,"color":"#000000"},{"offset":0.765,"color":"#000000"},{"offset":0.765,"color":"#67000d"},{"offset":1,"color":"#67000d"}]},"stroke":"black","strokeWidth":2},"encoding":{"x":{"datum":0.553,"type":"quantitative","axis":null},"x2":{"datum":0.808},"y":{"datum":1.616,"type":"quantitative","axis":null},"y2":{"datum":1.501}}},
{"data":{"values":[{}]},"mark":{"type":"point","shape":"circle","filled":true,"color":"#bebebe","size":16,"opacity":1,"strokeWidth":0},"encoding":{"x":{"datum":0.763,"type":"quantitative","axis":null},"y":{"datum":1.372,"type":"quantitative","axis":null}}},
{"data":{"values":[{}]},"mark":{"type":"point","shape":"triangle-up","filled":true,"color":"#5aa8d8","size":150,"opacity":1,"strokeWidth":0},"encoding":{"x":{"datum":0.741,"type":"quantitative","axis":null},"y":{"datum":1.181,"type":"quantitative","axis":null}}},
{"data":{"values":[{}]},"mark":{"type":"point","shape":"circle","filled":true,"color":"#34a05a","size":254,"opacity":1,"strokeWidth":0},"encoding":{"x":{"datum":0.741,"type":"quantitative","axis":null},"y":{"datum":0.99,"type":"quantitative","axis":null}}},
{"data":{"values":[{}]},"mark":{"type":"point","shape":"M-1,0L1,0M0,-1L0,1","filled":false,"color":"#aaaaaa","size":130,"opacity":1,"strokeWidth":1.4},"encoding":{"x":{"datum":0.741,"type":"quantitative","axis":null},"y":{"datum":0.798,"type":"quantitative","axis":null}}},
{"data":{"values":[{}]},"mark":{"type":"point","shape":"triangle-down","filled":true,"color":"#da70d6","size":150,"opacity":1,"strokeWidth":0},"encoding":{"x":{"datum":0.741,"type":"quantitative","axis":null},"y":{"datum":0.607,"type":"quantitative","axis":null}}},
{"data":{"values":[{}]},"mark":{"type":"point","shape":"triangle-right","filled":true,"color":"#ec6416","size":150,"opacity":1,"strokeWidth":0},"encoding":{"x":{"datum":0.741,"type":"quantitative","axis":null},"y":{"datum":0.416,"type":"quantitative","axis":null}}},
{"data":{"values":[{}]},"mark":{"type":"point","shape":"circle","filled":false,"color":"#ffcc00","size":150,"opacity":1,"strokeWidth":2},"encoding":{"x":{"datum":0.741,"type":"quantitative","axis":null},"y":{"datum":0.225,"type":"quantitative","axis":null}}},
{"data":{"values":[{}]},"mark":{"type":"text","text":"SHiZELS-8","align":"left","baseline":"middle","fontSize":19.5,"font":"Liberation Sans","color":"black"},"encoding":{"x":{"datum":0.838,"type":"quantitative","axis":null},"y":{"datum":1.754,"type":"quantitative","axis":null}}},
{"data":{"values":[{}]},"mark":{"type":"text","text":"SHiZELS-19","align":"left","baseline":"middle","fontSize":19.5,"font":"Liberation Sans","color":"#d7262b"},"encoding":{"x":{"datum":0.838,"type":"quantitative","axis":null},"y":{"datum":1.563,"type":"quantitative","axis":null}}},
{"data":{"values":[{}]},"mark":{"type":"text","text":"z ~ 0 Spirals","align":"left","baseline":"middle","fontSize":19.5,"font":"Liberation Sans","color":"#b8b8b8"},"encoding":{"x":{"datum":0.838,"type":"quantitative","axis":null},"y":{"datum":1.372,"type":"quantitative","axis":null}}},
{"data":{"values":[{}]},"mark":{"type":"text","text":"z ~ 0 LIRGs","align":"left","baseline":"middle","fontSize":19.5,"font":"Liberation Sans","color":"#5aa8d8"},"encoding":{"x":{"datum":0.838,"type":"quantitative","axis":null},"y":{"datum":1.181,"type":"quantitative","axis":null}}},
{"data":{"values":[{}]},"mark":{"type":"text","text":"Leroy+13","align":"left","baseline":"middle","fontSize":19.5,"font":"Liberation Sans","color":"#34a05a"},"encoding":{"x":{"datum":0.838,"type":"quantitative","axis":null},"y":{"datum":0.99,"type":"quantitative","axis":null}}},
{"data":{"values":[{}]},"mark":{"type":"text","text":"z ~ 0.4-1 ULIRGs","align":"left","baseline":"middle","fontSize":19.5,"font":"Liberation Sans","color":"#b8b8b8"},"encoding":{"x":{"datum":0.838,"type":"quantitative","axis":null},"y":{"datum":0.798,"type":"quantitative","axis":null}}},
{"data":{"values":[{}]},"mark":{"type":"text","text":"PHIBSS SFGs","align":"left","baseline":"middle","fontSize":19.5,"font":"Liberation Sans","color":"#da70d6"},"encoding":{"x":{"datum":0.838,"type":"quantitative","axis":null},"y":{"datum":0.607,"type":"quantitative","axis":null}}},
{"data":{"values":[{}]},"mark":{"type":"text","text":"ALESSI SMGs","align":"left","baseline":"middle","fontSize":19.5,"font":"Liberation Sans","color":"#ec6416"},"encoding":{"x":{"datum":0.838,"type":"quantitative","axis":null},"y":{"datum":0.416,"type":"quantitative","axis":null}}},
{"data":{"values":[{}]},"mark":{"type":"text","text":"BzKs","align":"left","baseline":"middle","fontSize":19.5,"font":"Liberation Sans","color":"#f5c400"},"encoding":{"x":{"datum":0.838,"type":"quantitative","axis":null},"y":{"datum":0.225,"type":"quantitative","axis":null}}},
{"data":{"values":[{}]},"mark":{"type":"rect","fill":{"gradient":"linear","x1":0,"y1":0,"x2":1,"y2":0,"stops":[{"offset":0,"color":"#fcbba1"},{"offset":0.245,"color":"#fcbba1"},{"offset":0.245,"color":"#000000"},{"offset":0.255,"color":"#000000"},{"offset":0.255,"color":"#fb6a4a"},{"offset":0.495,"color":"#fb6a4a"},{"offset":0.495,"color":"#000000"},{"offset":0.505,"color":"#000000"},{"offset":0.505,"color":"#cb181d"},{"offset":0.745,"color":"#cb181d"},{"offset":0.745,"color":"#000000"},{"offset":0.755,"color":"#000000"},{"offset":0.755,"color":"#67000d"},{"offset":1,"color":"#67000d"}]},"stroke":"black","strokeWidth":1.3},"encoding":{"x":{"datum":3.132,"type":"quantitative","axis":null},"x2":{"datum":4.199},"y":{"datum":-2.213,"type":"quantitative","axis":null},"y2":{"datum":-2.423}}},
{"data":{"values":[{}]},"mark":{"type":"text","text":"0.6 1.9 3.2 4.4","align":"center","baseline":"middle","fontSize":20.5,"font":"Liberation Sans","color":"black"},"encoding":{"x":{"datum":3.665,"type":"quantitative","axis":null},"y":{"datum":-2.519,"type":"quantitative","axis":null}}},
{"data":{"values":[{}]},"mark":{"type":"text","text":"[kpc]","align":"center","baseline":"middle","fontSize":20.5,"font":"Liberation Sans","color":"black"},"encoding":{"x":{"datum":3.665,"type":"quantitative","axis":null},"y":{"datum":-2.739,"type":"quantitative","axis":null}}}
]},
{"width":532,"height":538,
"resolve":{"axis":{"x":"independent","y":"independent"}},
"layer":[
{"data":{"name":"spirals"},"mark":{"type":"point","shape":"circle","filled":true,"color":"#bebebe","size":22,"opacity":1,"strokeWidth":0},
"encoding":{
"x":{"field":"x","type":"quantitative","scale":{"domain":[0.5,4.5],"nice":false,"zero":false},"axis":{"orient":"bottom","values":[1,2,3,4],"labelExpr":"''+datum.value","tickSize":-11,"tickWidth":1.5,"tickColor":"black","domainColor":"black","domainWidth":1.5,"labelFont":"Liberation Sans","labelFontSize":25,"labelColor":"black","labelPadding":24,"labelFlush":false,"labelOverlap":false,"title":"log₁₀ ΣH₂ [M⊙pc⁻²]","titleFont":"Liberation Sans","titleFontSize":25,"titleFontWeight":"normal","titleColor":"black","titlePadding":10,"zindex":1}},
"y":{"field":"y","type":"quantitative","scale":{"domain":[-3.07,2.07],"nice":false,"zero":false},"axis":{"orient":"left","values":[-3,-2,-1,0,1,2],"labelExpr":"''+datum.value","tickSize":-11,"tickWidth":1.5,"tickColor":"black","domainColor":"black","domainWidth":1.5,"labelFont":"Liberation Sans","labelFontSize":25,"labelColor":"black","labelPadding":22,"labelFlush":false,"labelOverlap":false,"title":"log₁₀ ΣSFR [M⊙yr⁻¹kpc⁻²]","titleFont":"Liberation Sans","titleFontSize":25,"titleFontWeight":"normal","titleColor":"black","titlePadding":16,"zindex":1}}}},
{"data":{"name":"depl"},"mark":{"type":"line","clip":true,"color":"black","strokeWidth":1.5,"strokeDash":[10,7]},"encoding":{"x":{"field":"x","type":"quantitative","axis":null},"y":{"field":"y","type":"quantitative","axis":null},"detail":{"field":"g","type":"nominal"}}},
{"data":{"name":"fit"},"mark":{"type":"line","clip":true,"color":"black","strokeWidth":1.5},"encoding":{"x":{"field":"x","type":"quantitative","axis":null},"y":{"field":"y","type":"quantitative","axis":null}}},
{"data":{"name":"lirgs"},"mark":{"type":"point","shape":"triangle-up","filled":true,"color":"#5aa8d8","size":150,"opacity":1,"strokeWidth":0},"encoding":{
"x":{"field":"x","type":"quantitative","axis":{"orient":"bottom","values":[0.6,0.7,0.8,0.9,1.1,1.2,1.3,1.4,1.5,1.6,1.7,1.8,1.9,2.1,2.2,2.3,2.4,2.5,2.6,2.7,2.8,2.9,3.1,3.2,3.3,3.4,3.5,3.6,3.7,3.8,3.9,4.1,4.2,4.3,4.4],"tickSize":-5.5,"tickWidth":1.3,"tickColor":"black","labels":false,"domain":false,"title":null,"zindex":1}},
"y":{"field":"y","type":"quantitative","axis":{"orient":"left","values":[-2.9,-2.8,-2.7,-2.6,-2.5,-2.4,-2.3,-2.2,-2.1,-1.9,-1.8,-1.7,-1.6,-1.5,-1.4,-1.3,-1.2,-1.1,-0.9,-0.8,-0.7,-0.6,-0.5,-0.4,-0.3,-0.2,-0.1,0.1,0.2,0.3,0.4,0.5,0.6,0.7,0.8,0.9,1.1,1.2,1.3,1.4,1.5,1.6,1.7,1.8,1.9],"tickSize":-5.5,"tickWidth":1.3,"tickColor":"black","labels":false,"domain":false,"title":null,"zindex":1}}}},
{"data":{"name":"leroy"},"mark":{"type":"rule","color":"#3aa862","strokeWidth":1.6},"encoding":{"x":{"field":"x","type":"quantitative","axis":null},"y":{"field":"lo","type":"quantitative","axis":null},"y2":{"field":"hi"}}},
{"data":{"name":"leroy"},"transform":[{"fold":["lo","hi"],"as":["k","v"]}],"mark":{"type":"tick","orient":"horizontal","color":"#3aa862","size":12,"thickness":1.6,"opacity":1},"encoding":{"x":{"field":"x","type":"quantitative","axis":null},"y":{"field":"v","type":"quantitative","axis":null}}},
{"data":{"name":"leroy"},"mark":{"type":"point","shape":"circle","filled":true,"color":"#34a05a","size":254,"opacity":1,"strokeWidth":0},"encoding":{"x":{"field":"x","type":"quantitative","axis":null},"y":{"field":"y","type":"quantitative","axis":null}}},
{"data":{"name":"ulirgs"},"mark":{"type":"point","shape":"M-1,0L1,0M0,-1L0,1","filled":false,"color":"#aaaaaa","size":130,"opacity":1,"strokeWidth":1.4},"encoding":{
"x":{"field":"x","type":"quantitative","axis":{"orient":"top","values":[0.6,0.7,0.8,0.9,1.1,1.2,1.3,1.4,1.5,1.6,1.7,1.8,1.9,2.1,2.2,2.3,2.4,2.5,2.6,2.7,2.8,2.9,3.1,3.2,3.3,3.4,3.5,3.6,3.7,3.8,3.9,4.1,4.2,4.3,4.4],"tickSize":-5.5,"tickWidth":1.3,"tickColor":"black","labels":false,"domain":false,"title":null,"zindex":1}},
"y":{"field":"y","type":"quantitative","axis":{"orient":"right","values":[-2.9,-2.8,-2.7,-2.6,-2.5,-2.4,-2.3,-2.2,-2.1,-1.9,-1.8,-1.7,-1.6,-1.5,-1.4,-1.3,-1.2,-1.1,-0.9,-0.8,-0.7,-0.6,-0.5,-0.4,-0.3,-0.2,-0.1,0.1,0.2,0.3,0.4,0.5,0.6,0.7,0.8,0.9,1.1,1.2,1.3,1.4,1.5,1.6,1.7,1.8,1.9],"tickSize":-5.5,"tickWidth":1.3,"tickColor":"black","labels":false,"domain":false,"title":null,"zindex":1}}}},
{"data":{"name":"phibss"},"mark":{"type":"point","shape":"triangle-down","filled":true,"color":"#da70d6","size":150,"opacity":1,"strokeWidth":0},"encoding":{
"x":{"field":"x","type":"quantitative","axis":{"orient":"top","values":[1,2,3,4],"tickSize":-11,"tickWidth":1.5,"tickColor":"black","labels":false,"domainColor":"black","domainWidth":1.5,"title":null,"zindex":1}},
"y":{"field":"y","type":"quantitative","axis":{"orient":"right","values":[-3,-2,-1,0,1,2],"tickSize":-11,"tickWidth":1.5,"tickColor":"black","labels":false,"domainColor":"black","domainWidth":1.5,"title":null,"zindex":1}}}},
{"data":{"name":"alessi"},"mark":{"type":"point","shape":"triangle-right","filled":true,"color":"#ec6416","size":150,"opacity":1,"strokeWidth":0},"encoding":{"x":{"field":"x","type":"quantitative","axis":null},"y":{"field":"y","type":"quantitative","axis":null}}},
{"data":{"name":"bzk"},"mark":{"type":"point","shape":"circle","filled":false,"color":"#ffcc00","size":110,"opacity":1,"strokeWidth":2},"encoding":{"x":{"field":"x","type":"quantitative","axis":null},"y":{"field":"y","type":"quantitative","axis":null}}},
{"data":{"name":"cl"},"mark":{"type":"line","clip":true,"color":"#a51b1b","strokeWidth":2.2},"encoding":{"x":{"field":"x","type":"quantitative","axis":null},"y":{"field":"y","type":"quantitative","axis":null},"detail":{"field":"c","type":"nominal"},"order":{"field":"o","type":"quantitative"}}},
{"data":{"name":"s19l"},"mark":{"type":"rule","color":"black","strokeWidth":8},"encoding":{"x":{"field":"xlo","type":"quantitative","axis":null},"x2":{"field":"xhi"},"y":{"field":"y","type":"quantitative","axis":null}}},
{"data":{"name":"s19l"},"mark":{"type":"rule","color":"black","strokeWidth":8},"encoding":{"x":{"field":"x","type":"quantitative","axis":null},"y":{"field":"ylo","type":"quantitative","axis":null},"y2":{"field":"yhi"}}},
{"data":{"name":"s19l"},"transform":[{"fold":["xlo","xhi"],"as":["k","v"]}],"mark":{"type":"tick","orient":"vertical","color":"black","size":15,"thickness":6.5,"opacity":1},"encoding":{"x":{"field":"v","type":"quantitative","axis":null},"y":{"field":"y","type":"quantitative","axis":null}}},
{"data":{"name":"s19l"},"transform":[{"fold":["ylo","yhi"],"as":["k","v"]}],"mark":{"type":"tick","orient":"horizontal","color":"black","size":15,"thickness":6.5,"opacity":1},"encoding":{"x":{"field":"x","type":"quantitative","axis":null},"y":{"field":"v","type":"quantitative","axis":null}}},
{"data":{"name":"s19l"},"mark":{"type":"rule","strokeWidth":4.5},"encoding":{"x":{"field":"xlo","type":"quantitative","axis":null},"x2":{"field":"xhi"},"y":{"field":"y","type":"quantitative","axis":null},"stroke":{"field":"r","type":"ordinal","scale":{"domain":["0.6","1.9","3.2","4.4"],"range":["#fcbba1","#fb6a4a","#cb181d","#67000d"]},"legend":null}}},
{"data":{"name":"s19l"},"mark":{"type":"rule","strokeWidth":4.5},"encoding":{"x":{"field":"x","type":"quantitative","axis":null},"y":{"field":"ylo","type":"quantitative","axis":null},"y2":{"field":"yhi"},"stroke":{"field":"r","type":"ordinal","scale":{"domain":["0.6","1.9","3.2","4.4"],"range":["#fcbba1","#fb6a4a","#cb181d","#67000d"]},"legend":null}}},
{"data":{"name":"s19l"},"transform":[{"fold":["xlo","xhi"],"as":["k","v"]}],"mark":{"type":"tick","orient":"vertical","size":11,"thickness":3,"opacity":1},"encoding":{"x":{"field":"v","type":"quantitative","axis":null},"y":{"field":"y","type":"quantitative","axis":null},"fill":{"field":"r","type":"ordinal","scale":{"domain":["0.6","1.9","3.2","4.4"],"range":["#fcbba1","#fb6a4a","#cb181d","#67000d"]},"legend":null}}},
{"data":{"name":"s19l"},"transform":[{"fold":["ylo","yhi"],"as":["k","v"]}],"mark":{"type":"tick","orient":"horizontal","size":11,"thickness":3,"opacity":1},"encoding":{"x":{"field":"x","type":"quantitative","axis":null},"y":{"field":"v","type":"quantitative","axis":null},"fill":{"field":"r","type":"ordinal","scale":{"domain":["0.6","1.9","3.2","4.4"],"range":["#fcbba1","#fb6a4a","#cb181d","#67000d"]},"legend":null}}},
{"data":{"name":"s19l"},"mark":{"type":"point","shape":"square","filled":true,"size":190,"opacity":1,"stroke":"black","strokeWidth":1.4},"encoding":{"x":{"field":"x","type":"quantitative","axis":null},"y":{"field":"y","type":"quantitative","axis":null},"fill":{"field":"r","type":"ordinal","scale":{"domain":["0.6","1.9","3.2","4.4"],"range":["#fcbba1","#fb6a4a","#cb181d","#67000d"]},"legend":null}}},
{"data":{"name":"s8l"},"mark":{"type":"point","shape":"M0,-1L0.235,-0.324L0.951,-0.309L0.38,0.124L0.588,0.809L0,0.4L-0.588,0.809L-0.38,0.124L-0.951,-0.309L-0.235,-0.324Z","filled":true,"fill":"#ffff00","size":620,"opacity":1,"stroke":"black","strokeWidth":1.3},"encoding":{"x":{"field":"x","type":"quantitative","axis":null},"y":{"field":"y","type":"quantitative","axis":null}}},
{"data":{"values":[{}]},"mark":{"type":"text","text":"0.01 Gyr","angle":-38,"fontSize":23,"font":"Liberation Sans","color":"black"},"encoding":{"x":{"datum":0.823,"type":"quantitative","axis":null},"y":{"datum":-0.375,"type":"quantitative","axis":null}}},
{"data":{"values":[{}]},"mark":{"type":"text","text":"0.1 Gyr","angle":-38,"fontSize":23,"font":"Liberation Sans","color":"black"},"encoding":{"x":{"datum":0.791,"type":"quantitative","axis":null},"y":{"datum":-1.161,"type":"quantitative","axis":null}}},
{"data":{"values":[{}]},"mark":{"type":"text","text":"1 Gyr","angle":-38,"fontSize":23,"font":"Liberation Sans","color":"black"},"encoding":{"x":{"datum":0.716,"type":"quantitative","axis":null},"y":{"datum":-2.181,"type":"quantitative","axis":null}}},
{"data":{"values":[{}]},"mark":{"type":"text","text":"10 Gyr","angle":-38,"fontSize":23,"font":"Liberation Sans","color":"black"},"encoding":{"x":{"datum":1.475,"type":"quantitative","axis":null},"y":{"datum":-2.755,"type":"quantitative","axis":null}}},
{"data":{"values":[{}]},"mark":{"type":"text","text":"100 Gyr","angle":-38,"fontSize":23,"font":"Liberation Sans","color":"black"},"encoding":{"x":{"datum":2.502,"type":"quantitative","axis":null},"y":{"datum":-2.739,"type":"quantitative","axis":null}}},
{"data":{"values":[{}]},"mark":{"type":"text","text":"Leroy+13 best-fit","angle":-39,"fontSize":21,"font":"Liberation Sans","color":"black"},"encoding":{"x":{"datum":4.006,"type":"quantitative","axis":null},"y":{"datum":0.48,"type":"quantitative","axis":null}}},
{"data":{"values":[{}]},"mark":{"type":"text","text":"Luminosity peak","align":"right","baseline":"middle","fontSize":29,"font":"Liberation Sans","color":"black"},"encoding":{"x":{"datum":4.455,"type":"quantitative","axis":null},"y":{"datum":1.755,"type":"quantitative","axis":null}}},
{"data":{"values":[{}]},"mark":{"type":"point","shape":"M0,-1L0.235,-0.324L0.951,-0.309L0.38,0.124L0.588,0.809L0,0.4L-0.588,0.809L-0.38,0.124L-0.951,-0.309L-0.235,-0.324Z","filled":true,"fill":"#ffff00","stroke":"black","strokeWidth":1.3,"size":450,"opacity":1},"encoding":{"x":{"datum":0.733,"type":"quantitative","axis":null},"y":{"datum":1.754,"type":"quantitative","axis":null}}},
{"data":{"values":[{}]},"mark":{"type":"rect","fill":{"gradient":"linear","x1":0,"y1":0,"x2":1,"y2":0,"stops":[{"offset":0,"color":"#fcbba1"},{"offset":0.235,"color":"#fcbba1"},{"offset":0.235,"color":"#000000"},{"offset":0.265,"color":"#000000"},{"offset":0.265,"color":"#fb6a4a"},{"offset":0.485,"color":"#fb6a4a"},{"offset":0.485,"color":"#000000"},{"offset":0.515,"color":"#000000"},{"offset":0.515,"color":"#cb181d"},{"offset":0.735,"color":"#cb181d"},{"offset":0.735,"color":"#000000"},{"offset":0.765,"color":"#000000"},{"offset":0.765,"color":"#67000d"},{"offset":1,"color":"#67000d"}]},"stroke":"black","strokeWidth":2},"encoding":{"x":{"datum":0.553,"type":"quantitative","axis":null},"x2":{"datum":0.808},"y":{"datum":1.616,"type":"quantitative","axis":null},"y2":{"datum":1.501}}},
{"data":{"values":[{}]},"mark":{"type":"point","shape":"circle","filled":true,"color":"#bebebe","size":16,"opacity":1,"strokeWidth":0},"encoding":{"x":{"datum":0.763,"type":"quantitative","axis":null},"y":{"datum":1.372,"type":"quantitative","axis":null}}},
{"data":{"values":[{}]},"mark":{"type":"point","shape":"triangle-up","filled":true,"color":"#5aa8d8","size":150,"opacity":1,"strokeWidth":0},"encoding":{"x":{"datum":0.741,"type":"quantitative","axis":null},"y":{"datum":1.181,"type":"quantitative","axis":null}}},
{"data":{"values":[{}]},"mark":{"type":"point","shape":"circle","filled":true,"color":"#34a05a","size":254,"opacity":1,"strokeWidth":0},"encoding":{"x":{"datum":0.741,"type":"quantitative","axis":null},"y":{"datum":0.99,"type":"quantitative","axis":null}}},
{"data":{"values":[{}]},"mark":{"type":"point","shape":"M-1,0L1,0M0,-1L0,1","filled":false,"color":"#aaaaaa","size":130,"opacity":1,"strokeWidth":1.4},"encoding":{"x":{"datum":0.741,"type":"quantitative","axis":null},"y":{"datum":0.798,"type":"quantitative","axis":null}}},
{"data":{"values":[{}]},"mark":{"type":"point","shape":"triangle-down","filled":true,"color":"#da70d6","size":150,"opacity":1,"strokeWidth":0},"encoding":{"x":{"datum":0.741,"type":"quantitative","axis":null},"y":{"datum":0.607,"type":"quantitative","axis":null}}},
{"data":{"values":[{}]},"mark":{"type":"point","shape":"triangle-right","filled":true,"color":"#ec6416","size":150,"opacity":1,"strokeWidth":0},"encoding":{"x":{"datum":0.741,"type":"quantitative","axis":null},"y":{"datum":0.416,"type":"quantitative","axis":null}}},
{"data":{"values":[{}]},"mark":{"type":"point","shape":"circle","filled":false,"color":"#ffcc00","size":150,"opacity":1,"strokeWidth":2},"encoding":{"x":{"datum":0.741,"type":"quantitative","axis":null},"y":{"datum":0.225,"type":"quantitative","axis":null}}},
{"data":{"values":[{}]},"mark":{"type":"text","text":"SHiZELS-8","align":"left","baseline":"middle","fontSize":19.5,"font":"Liberation Sans","color":"black"},"encoding":{"x":{"datum":0.838,"type":"quantitative","axis":null},"y":{"datum":1.754,"type":"quantitative","axis":null}}},
{"data":{"values":[{}]},"mark":{"type":"text","text":"SHiZELS-19","align":"left","baseline":"middle","fontSize":19.5,"font":"Liberation Sans","color":"#d7262b"},"encoding":{"x":{"datum":0.838,"type":"quantitative","axis":null},"y":{"datum":1.563,"type":"quantitative","axis":null}}},
{"data":{"values":[{}]},"mark":{"type":"text","text":"z ~ 0 Spirals","align":"left","baseline":"middle","fontSize":19.5,"font":"Liberation Sans","color":"#b8b8b8"},"encoding":{"x":{"datum":0.838,"type":"quantitative","axis":null},"y":{"datum":1.372,"type":"quantitative","axis":null}}},
{"data":{"values":[{}]},"mark":{"type":"text","text":"z ~ 0 LIRGs","align":"left","baseline":"middle","fontSize":19.5,"font":"Liberation Sans","color":"#5aa8d8"},"encoding":{"x":{"datum":0.838,"type":"quantitative","axis":null},"y":{"datum":1.181,"type":"quantitative","axis":null}}},
{"data":{"values":[{}]},"mark":{"type":"text","text":"Leroy+13","align":"left","baseline":"middle","fontSize":19.5,"font":"Liberation Sans","color":"#34a05a"},"encoding":{"x":{"datum":0.838,"type":"quantitative","axis":null},"y":{"datum":0.99,"type":"quantitative","axis":null}}},
{"data":{"values":[{}]},"mark":{"type":"text","text":"z ~ 0.4-1 ULIRGs","align":"left","baseline":"middle","fontSize":19.5,"font":"Liberation Sans","color":"#b8b8b8"},"encoding":{"x":{"datum":0.838,"type":"quantitative","axis":null},"y":{"datum":0.798,"type":"quantitative","axis":null}}},
{"data":{"values":[{}]},"mark":{"type":"text","text":"PHIBSS SFGs","align":"left","baseline":"middle","fontSize":19.5,"font":"Liberation Sans","color":"#da70d6"},"encoding":{"x":{"datum":0.838,"type":"quantitative","axis":null},"y":{"datum":0.607,"type":"quantitative","axis":null}}},
{"data":{"values":[{}]},"mark":{"type":"text","text":"ALESSI SMGs","align":"left","baseline":"middle","fontSize":19.5,"font":"Liberation Sans","color":"#ec6416"},"encoding":{"x":{"datum":0.838,"type":"quantitative","axis":null},"y":{"datum":0.416,"type":"quantitative","axis":null}}},
{"data":{"values":[{}]},"mark":{"type":"text","text":"BzKs","align":"left","baseline":"middle","fontSize":19.5,"font":"Liberation Sans","color":"#f5c400"},"encoding":{"x":{"datum":0.838,"type":"quantitative","axis":null},"y":{"datum":0.225,"type":"quantitative","axis":null}}},
{"data":{"values":[{}]},"mark":{"type":"rect","fill":{"gradient":"linear","x1":0,"y1":0,"x2":1,"y2":0,"stops":[{"offset":0,"color":"#fcbba1"},{"offset":0.245,"color":"#fcbba1"},{"offset":0.245,"color":"#000000"},{"offset":0.255,"color":"#000000"},{"offset":0.255,"color":"#fb6a4a"},{"offset":0.495,"color":"#fb6a4a"},{"offset":0.495,"color":"#000000"},{"offset":0.505,"color":"#000000"},{"offset":0.505,"color":"#cb181d"},{"offset":0.745,"color":"#cb181d"},{"offset":0.745,"color":"#000000"},{"offset":0.755,"color":"#000000"},{"offset":0.755,"color":"#67000d"},{"offset":1,"color":"#67000d"}]},"stroke":"black","strokeWidth":1.3},"encoding":{"x":{"datum":3.132,"type":"quantitative","axis":null},"x2":{"datum":4.199},"y":{"datum":-2.213,"type":"quantitative","axis":null},"y2":{"datum":-2.423}}},
{"data":{"values":[{}]},"mark":{"type":"text","text":"0.6 1.9 3.2 4.4","align":"center","baseline":"middle","fontSize":20.5,"font":"Liberation Sans","color":"black"},"encoding":{"x":{"datum":3.665,"type":"quantitative","axis":null},"y":{"datum":-2.519,"type":"quantitative","axis":null}}},
{"data":{"values":[{}]},"mark":{"type":"text","text":"[kpc]","align":"center","baseline":"middle","fontSize":20.5,"font":"Liberation Sans","color":"black"},"encoding":{"x":{"datum":3.665,"type":"quantitative","axis":null},"y":{"datum":-2.739,"type":"quantitative","axis":null}}}
]}
]
}
